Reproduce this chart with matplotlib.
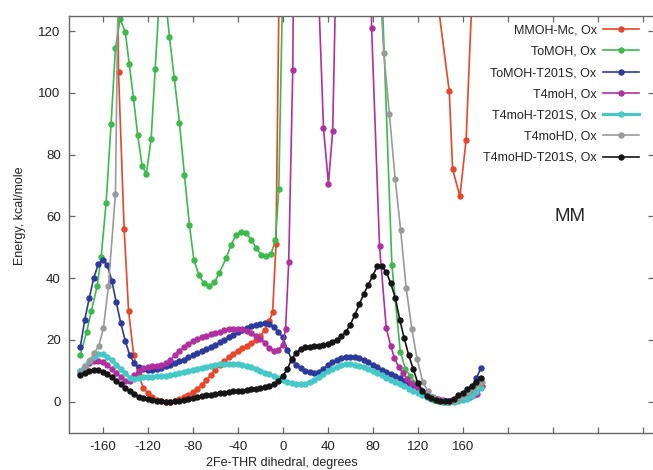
import matplotlib
matplotlib.use("Agg")
import matplotlib.pyplot as plt

plt.rcParams['font.family'] = ['Liberation Sans', 'DejaVu Sans']

# common dihedral grid (degrees) for the densely sampled scans
ANGLES = [-180, -176, -172, -168, -164, -160, -156, -152, -148, -144,
          -140, -136, -132, -128, -124, -120, -116, -112, -108, -104,
          -100, -96, -92, -88, -84, -80, -76, -72, -68, -64,
          -60, -56, -52, -48, -44, -40, -36, -32, -28, -24,
          -20, -16, -12, -8, -4, 0, 4, 8, 12, 16,
          20, 24, 28, 32, 36, 40, 44, 48, 52, 56,
          60, 64, 68, 72, 76, 80, 84, 88, 92, 96,
          100, 104, 108, 112, 116, 120, 124, 128, 132, 136,
          140, 144, 148, 152, 156, 160, 164, 168, 172, 176]

# MMOH-Mc, Ox  (values above 125 run off the top of the plot)
MMOH_X = [-150, -146, -141, -137, -132.5, -128, -124, -120, -116, -112,
          -108, -104, -100, -96, -92, -88, -84, -80, -76, -72,
          -68, -64, -60, -56, -52, -48, -44, -40, -36, -32,
          -28, -24, -20, -16, -12, -9, -6, -2, 0, 136,
          148, 151, 157.5, 163, 170]
MMOH_E = [300, 106.7, 56, 29.2, 15.1, 8.5, 4.5, 2.7, 1.5, 0.6,
          0.1, 0.0, 0.0, 0.3, 0.8, 1.5, 2.2, 3.0, 4.2, 5.5,
          7.0, 8.5, 10.2, 11.8, 13.0, 14.3, 15.5, 16.5, 17.3, 18.1,
          19.0, 20.0, 21.3, 23.2, 26.0, 29.0, 51.0, 171, 300, 134.5,
          100.6, 75.2, 66.5, 84.9, 147]

# ToMOH, Ox
TOMOH_X = [-180, -174.2, -170.3, -165, -161.4, -157, -152.6, -148.7, -144.6, -140,
           -136.5, -132.7, -128.9, -125, -121.2, -117, -113.4, -109, -105, -100.7,
           -96.5, -91.8, -87.4, -83, -79, -74.7, -70.2, -65.2, -60.7, -56.3,
           -50.3, -45.9, -41.4, -37, -32.5, -28, -23.6, -19.2, -14.8, -10.3,
           -6.5, -3.5, 0.5, 88, 97, 104.5, 109, 113.5, 118, 122,
           126, 130, 134, 138, 142, 146, 150, 154, 158, 162,
           166, 170, 174]
TOMOH_E = [15.1, 22.7, 29.2, 37.3, 47.0, 64.4, 90.0, 114.6, 123.8, 119.8,
           109.5, 98.3, 86.2, 76.4, 73.8, 85.1, 107.6, 135, 133, 118.2,
           104.9, 90.3, 73.5, 57.3, 46.0, 41.1, 38.4, 37.5, 38.6, 41.8,
           46.5, 50.8, 54.1, 55.1, 54.6, 52.4, 49.8, 47.6, 47.3, 47.9,
           52.4, 68.9, 146, 135, 44.3, 16.2, 10.5, 8.3, 6.0, 4.0,
           2.5, 1.3, 0.6, 0.2, 0.0, 0.0, 0.3, 0.8, 1.6, 2.6,
           3.6, 4.7, 6.0]

# ToMOH-T201S, Ox
TOMOH_T201S_E = [17.6, 26.5, 33.5, 40.0, 44.5, 46.0, 44.2, 39.2, 32.2, 25.5,
                 19.7, 15.0, 12.5, 11.2, 10.6, 10.4, 10.4, 10.6, 11.0, 11.4,
                 11.9, 12.4, 13.0, 13.6, 14.3, 15.0, 15.7, 16.4, 17.1, 17.8,
                 18.5, 19.2, 20.0, 20.8, 21.6, 22.4, 23.2, 23.9, 24.4, 24.9,
                 25.3, 25.6, 25.2, 24.1, 22.6, 20.8, 16.8, 13.6, 12.0, 10.9,
                 10.0, 9.5, 9.2, 9.5, 10.5, 11.8, 12.9, 13.6, 14.1, 14.5,
                 14.6, 14.5, 14.1, 13.4, 12.7, 12.0, 11.2, 10.4, 9.6, 8.9,
                 8.2, 7.5, 6.8, 6.0, 5.1, 4.2, 3.3, 2.4, 1.6, 0.9,
                 0.4, 0.1, 0.0, 0.3, 1.0, 2.0, 3.2, 4.8, 7.5, 10.8]

# T4moH, Ox
T4MOH_X = ANGLES[:45] + [0, 2.5, 5.3, 8.9, 12, 31, 36.2, 40.6, 44.4, 48,
                         76, 79, 86, 92, 96, 99.3, 103, 106.7, 110.5, 114.1,
                         118, 122, 126, 130, 134, 138, 142, 146, 150, 154,
                         158, 162, 166, 170, 173, 177.5]
T4MOH_E = [10.0, 11.3, 12.4, 13.2, 13.3, 12.8, 11.8, 10.6, 9.3, 8.0,
           6.8, 6.6, 8.5, 10.0, 10.9, 11.3, 11.5, 11.6, 11.9, 12.4,
           13.4, 15.0, 16.4, 17.6, 18.6, 19.5, 20.2, 20.8, 21.3, 21.8,
           22.3, 22.7, 23.1, 23.4, 23.6, 23.6, 23.4, 22.9, 22.2, 21.4,
           20.4, 19.0, 17.3, 16.3, 16.6,
           18.5, 23.5, 45.2, 107.3, 250, 141, 88.7, 70.6, 87.6, 152,
           200, 121, 50.5, 23.8, 18.0, 14.1, 11.3, 9.2, 7.4, 6.0,
           4.8, 3.7, 2.7, 1.8, 1.2, 0.7, 0.4, 0.3, 0.4, 0.7,
           1.0, 1.3, 1.6, 2.0, 2.4, 5.2]

# T4moH-T201S, Ox
T4MOH_T201S_E = [10.0, 11.5, 13.0, 14.5, 15.5, 15.5, 14.5, 13.4, 12.0, 10.5,
                 9.2, 7.8, 7.4, 7.8, 8.0, 8.1, 8.1, 8.2, 8.3, 8.4,
                 8.6, 8.9, 9.2, 9.5, 9.9, 10.3, 10.6, 11.0, 11.3, 11.6,
                 11.9, 12.1, 12.2, 12.3, 12.3, 12.2, 12.0, 11.6, 11.1, 10.5,
                 10.0, 9.4, 8.8, 8.2, 7.6, 7.1, 6.5, 6.0, 5.7, 5.6,
                 5.8, 6.3, 7.0, 7.9, 8.9, 9.8, 10.6, 11.3, 11.8, 12.1,
                 12.2, 12.0, 11.6, 11.1, 10.5, 9.9, 9.2, 8.5, 7.8, 7.0,
                 6.3, 5.6, 4.9, 4.2, 3.5, 2.8, 2.1, 1.5, 0.9, 0.5,
                 0.2, 0.0, 0.0, 0.0, 0.2, 0.5, 1.0, 1.8, 3.0, 4.5]

# T4moHD, Ox
T4MOHD_X = [-180, -175.5, -171.5, -167.5, -163.5, -159.4, -155, -148.7, -145, 86,
            89.8, 94.8, 99.9, 104.8, 109.7, 114.8, 119.4, 124.4, 129, 133.5,
            138, 142.5, 147, 151.5, 156, 160.5, 165, 169.5, 174, 177.5]
T4MOHD_E = [9.3, 11.4, 13.4, 15.8, 18.0, 23.8, 37.3, 67.4, 174, 138,
            113, 93, 72.2, 55.5, 36.8, 23.4, 13.8, 6.5, 3.3, 1.5,
            0.5, 0.1, 0.0, 0.3, 1.0, 2.0, 3.2, 4.5, 5.8, 6.5]

# T4moHD-T201S, Ox
T4MOHD_T201S_E = [8.7, 9.4, 9.9, 10.2, 10.1, 9.7, 8.8, 7.9, 6.7, 5.6,
                  4.3, 3.3, 2.4, 1.6, 1.1, 0.7, 0.4, 0.2, 0.1, 0.0,
                  0.0, 0.1, 0.3, 0.6, 0.8, 1.1, 1.4, 1.7, 2.0, 2.3,
                  2.5, 2.7, 2.9, 3.1, 3.3, 3.5, 3.6, 3.8, 4.0, 4.2,
                  4.4, 4.7, 5.0, 5.6, 6.7, 8.3, 10.5, 13.8, 15.8, 17.0,
                  17.6, 17.8, 18.0, 18.0, 18.2, 18.7, 19.3, 20.0, 21.2, 22.5,
                  24.9, 28.0, 31.5, 34.8, 37.8, 40.8, 43.8, 43.8, 42.0, 38.3,
                  33.7, 26.5, 20.5, 15.0, 10.5, 6.1, 3.4, 1.9, 1.1, 0.6,
                  0.3, 0.2, 0.3, 0.8, 2.2, 2.7, 4.1, 5.1, 6.3, 7.6]

SERIES = [
    ("MMOH-Mc, Ox", MMOH_X, MMOH_E, "#e8452a", 1.2),
    ("ToMOH, Ox", TOMOH_X, TOMOH_E, "#3dba4c", 1.2),
    ("ToMOH-T201S, Ox", ANGLES, TOMOH_T201S_E, "#2d3a9c", 1.2),
    ("T4moH, Ox", T4MOH_X, T4MOH_E, "#b0309f", 1.2),
    ("T4moH-T201S, Ox", ANGLES, T4MOH_T201S_E, "#45c8c8", 2.2),
    ("T4moHD, Ox", T4MOHD_X, T4MOHD_E, "#9a9a9a", 1.2),
    ("T4moHD-T201S, Ox", ANGLES, T4MOHD_T201S_E, "#151515", 1.2),
]

X_TICKS = [-160, -120, -80, -40, 0, 40, 80, 120, 160, 200, 240, 280, 320]
Y_TICKS = [0, 20, 40, 60, 80, 100, 120]

W, H = 653, 470
fig = plt.figure(figsize=(W / 100, H / 100), dpi=100)
ax = fig.add_axes([69 / W, 37.5 / H, 585 / W, 416.8 / H])

for label, xs, ys, color, lw in SERIES:
    ax.plot(xs, ys, color=color, lw=lw, marker="o", ms=3.6,
            mec=color, mfc=color, label=label)

ax.set_xlim(-190, 330)
ax.set_ylim(-10, 125)
ax.set_xticks(X_TICKS)
ax.set_xticklabels([str(v) if v <= 160 else "" for v in X_TICKS])
ax.set_yticks(Y_TICKS)
ax.set_yticklabels([str(v) for v in Y_TICKS])
ax.tick_params(direction="in", top=True, right=True, length=4, width=0.9,
               color="#666666", labelcolor="#222222", labelsize=9.5, pad=6)
for sp in ax.spines.values():
    sp.set_color("#666666")
    sp.set_linewidth(1.0)

ax.text(255, 60, "MM", fontsize=13.5, ha="center", va="center", color="#222222")

fig.text(282 / W, 1 - 463 / H, "2Fe-THR dihedral, degrees", fontsize=9,
         ha="center", va="center", color="#222222")
fig.text(20 / W, 1 - 216 / H, "Energy, kcal/mole", fontsize=9, rotation=90,
         ha="center", va="center", color="#222222")

ax.legend(loc="upper right", bbox_to_anchor=(639 / W, 1 - 24.5 / H),
          bbox_transform=fig.transFigure, frameon=False, markerfirst=False,
          fontsize=9, handlelength=2.9, handletextpad=0.5, labelspacing=0.74,
          borderpad=0, borderaxespad=0, numpoints=1, labelcolor="#222222")

fig.savefig("out.png", dpi=100)
